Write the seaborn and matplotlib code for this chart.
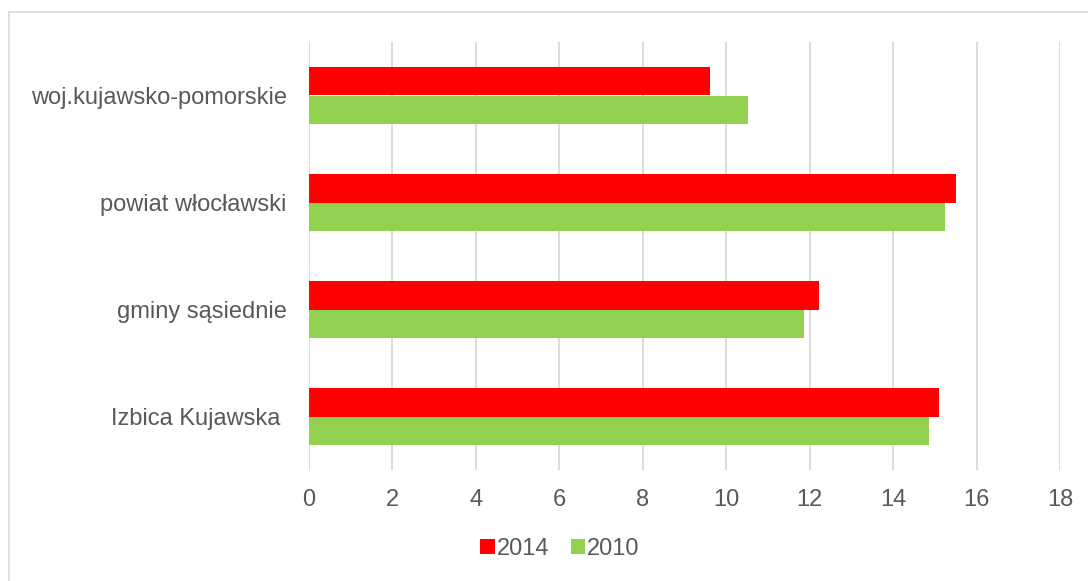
import matplotlib
matplotlib.use('Agg')
import matplotlib.pyplot as plt
import seaborn as sns
import pandas as pd
from matplotlib.patches import Rectangle

# dane
categories = ['woj.kujawsko-pomorskie', 'powiat włocławski', 'gminy sąsiednie', 'Izbica Kujawska ']
years = ['2014', '2010']
values_2014 = [9.6, 15.5, 12.22, 15.1]
values_2010 = [10.52, 15.24, 11.87, 14.87]
x_ticks = [0, 2, 4, 6, 8, 10, 12, 14, 16, 18]

df = pd.DataFrame({
    'kategoria': categories * 2,
    'rok': [years[0]] * 4 + [years[1]] * 4,
    'wartosc': values_2014 + values_2010,
})

sns.set_theme(style='white')
plt.rcParams['font.family'] = ['Liberation Sans', 'DejaVu Sans']

fig = plt.figure(figsize=(10.88, 5.81), dpi=100)
ax = fig.add_axes([309 / 1088, 1 - 470 / 581, (1060 - 309) / 1088, (470 - 42) / 581])

sns.barplot(data=df, y='kategoria', x='wartosc', hue='rok', hue_order=years,
            palette={'2014': '#FF0000', '2010': '#92D050'}, width=0.53,
            orient='h', ax=ax, saturation=1, linewidth=0, legend=True)

ax.set_xlim(0, 18)
ax.set_xticks(x_ticks)
ax.set_xlabel('')
ax.set_ylabel('')
ax.xaxis.grid(True, color='#D9D9D9', linewidth=1.3)
ax.set_axisbelow(True)
for s in ax.spines.values():
    s.set_visible(False)
ax.tick_params(axis='both', length=0, labelsize=17, colors='#595959')
ax.tick_params(axis='x', pad=14)
ax.tick_params(axis='y', pad=16)

ax.legend(loc='center', bbox_to_anchor=(560 / 1088, 1 - 549 / 581),
          bbox_transform=fig.transFigure, ncol=2, frameon=False,
          fontsize=17, labelcolor='#595959', handlelength=0.6, handleheight=0.6,
          handletextpad=0.1, columnspacing=0.9)

# ramka wykresu
fig.patches.append(Rectangle((9 / 1088, -0.05), 1.1, 1.05 - 12 / 581,
                             transform=fig.transFigure, fill=False,
                             edgecolor='#D9D9D9', linewidth=1.2))

fig.savefig('out.png', dpi=100)
